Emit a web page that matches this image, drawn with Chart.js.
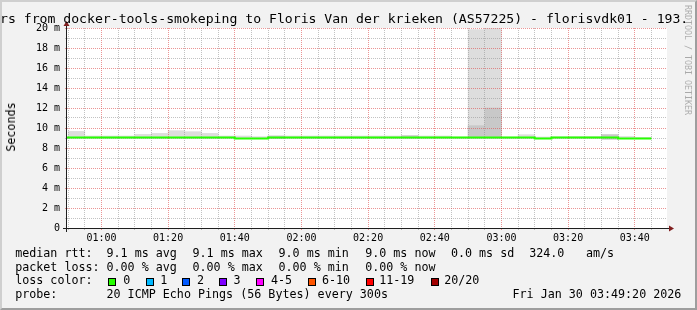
<!DOCTYPE html>
<html><head><meta charset="utf-8">
<script src="https://cdn.jsdelivr.net/npm/chart.js@4/dist/chart.umd.min.js"></script>
<style>
html,body{margin:0;padding:0;background:#f2f2f2;}
#wrap{position:relative;width:697px;height:310px;overflow:hidden;background:#f2f2f2;font-family:'DejaVu Sans Mono',monospace;color:#000;}
#frame{position:absolute;left:0;top:0;width:697px;height:310px;box-sizing:border-box;border-top:2px solid #cfcfcf;border-left:2px solid #cfcfcf;border-right:2px solid #9e9e9e;border-bottom:2px solid #9e9e9e;}
canvas{position:absolute;left:0;top:0;}
.t{position:absolute;white-space:pre;}
#title{left:0;top:11px;font-size:13.15px;line-height:16px;}
.lg{position:absolute;left:0;width:697px;height:14px;font-size:11.7px;line-height:14px;}
.box{position:absolute;top:278px;width:8px;height:8px;box-sizing:border-box;border:1px solid #000;}
#ylab{position:absolute;left:10.5px;top:126.5px;font-size:11.7px;line-height:14px;white-space:pre;transform:translate(-50%,-50%) rotate(-90deg);}
#wm{position:absolute;left:683px;top:5px;font-size:8.3px;line-height:9px;width:9px;writing-mode:vertical-rl;color:rgba(0,0,0,0.3);white-space:pre;}
</style></head>
<body>
<div id="wrap">
  <div id="frame"></div>
  <canvas id="c" width="697" height="310"></canvas>
  <div class="t" id="title">rs from docker-tools-smokeping to Floris Van der krieken (AS57225) - florisvdk01 - 193.</div>
  <div id="ylab">Seconds</div>
  <div id="wm">RRDTOOL / TOBI OETIKER</div>
  <div id="legend"></div>
</div>
<script>
// ---- data ----
const viewStart = '00:49:40';
const viewEnd   = '03:49:40';
const binMinutes = 5; // 300 s steps
const binTimes = ['00:45','00:50','00:55','01:00','01:05','01:10','01:15','01:20','01:25','01:30','01:35','01:40',
                  '01:45','01:50','01:55','02:00','02:05','02:10','02:15','02:20','02:25','02:30','02:35','02:40',
                  '02:45','02:50','02:55','03:00','03:05','03:10','03:15','03:20','03:25','03:30','03:35','03:40'];
// median rtt in ms
const medianRtt = [8.95,9.05,9.05,9.05,9.05,9.05,9.05,9.05,9.05,9.05,9.05,9.05,
                   8.95,8.95,9.05,9.05,9.05,9.05,9.05,9.05,9.05,9.05,9.05,9.05,
                   9.05,9.05,9.05,9.05,9.05,9.05,8.95,9.05,9.05,9.05,9.05,8.95];
// outer smoke (min / max ping) in ms
const smokeLow  = [null,8.95,8.95,8.95,8.95,8.95,8.95,8.95,8.95,8.95,8.95,8.95,
                   8.95,8.95,8.95,8.95,8.95,8.95,8.95,8.95,8.95,8.95,8.95,8.95,
                   8.95,8.95,8.95,8.95,8.95,8.95,8.95,8.95,8.95,8.88,8.95,8.95];
const smokeHigh = [null,9.66,9.2,9.2,9.2,9.36,9.46,9.73,9.63,9.46,9.2,9.2,
                   9.13,9.2,9.2,9.2,9.2,9.2,9.2,9.2,9.2,9.23,9.2,9.2,
                   9.1,19.83,20.3,9.1,9.33,9.1,9.12,9.15,9.15,9.33,9.15,9.05];
// inner (denser) smoke band in ms
const coreLow  = [null,null,null,null,null,null,null,null,null,null,null,null,
                  null,8.95,null,null,null,null,null,null,null,9.0,null,null,
                  null,9.0,9.0,null,null,null,null,null,null,8.88,null,null];
const coreHigh = [null,null,null,null,null,null,null,null,null,null,null,null,
                  null,9.2,null,null,null,null,null,null,null,9.23,null,null,
                  null,10.23,12.0,null,null,null,null,null,null,9.33,null,null];
const xTickLabels = ['01:00','01:20','01:40','02:00','02:20','02:40','03:00','03:20','03:40'];
const yTickLabels = ['0','2 m','4 m','6 m','8 m','10 m','12 m','14 m','16 m','18 m','20 m'];

// legend texts
const legendLines = [
  {top:246.25, items:[[15.2,'median rtt:'],[106.5,'9.1 ms avg'],[192.5,'9.1 ms max'],[278.5,'9.0 ms min'],[365.2,'9.0 ms now'],[450.9,'0.0 ms sd'],[529.2,'324.0'],[585.9,'am/s']]},
  {top:259.65, items:[[15.2,'packet loss:'],[106.5,'0.00 % avg'],[192.5,'0.00 % max'],[278.5,'0.00 % min'],[365.2,'0.00 % now']]},
  {top:272.95, items:[[15.2,'loss color:'],[123.2,'0'],[160.2,'1'],[196.9,'2'],[233.5,'3'],[270.9,'4-5'],[321.9,'6-10'],[379.2,'11-19'],[444.2,'20/20']]},
  {top:286.65, items:[[15.2,'probe:'],[106.5,'20 ICMP Echo Pings (56 Bytes) every 300s'],[512.5,'Fri Jan 30 03:49:20 2026']]}
];
const lossColors = ['#26ff00','#00b8ff','#0059ff','#7e00ff','#ff00ff','#ff5500','#ff0000','#a10000'];
const lossBoxX = [108,146,182,219,256,308,366,431];

// ---- legend DOM ----
const lg = document.getElementById('legend');
legendLines.forEach(l => {
  const d = document.createElement('div'); d.className='lg'; d.style.top = l.top+'px';
  l.items.forEach(([x,s]) => { const sp=document.createElement('span'); sp.className='t'; sp.style.left=x+'px'; sp.textContent=s; d.appendChild(sp); });
  lg.appendChild(d);
});
lossColors.forEach((c,i) => { const b=document.createElement('div'); b.className='box'; b.style.left=lossBoxX[i]+'px'; b.style.background=c; lg.appendChild(b); });

// ---- chart ----
const toMin = s => { const p = s.split(':').map(Number); return p[0]*60 + p[1] + (p[2]||0)/60; };
const fmt = m => String(Math.floor(m/60)).padStart(2,'0') + ':' + String(Math.round(m%60)).padStart(2,'0');

const smokeData = binTimes.map((t,i) => smokeHigh[i]==null ? null : {x: toMin(t)+binMinutes/2, y:[smokeLow[i], smokeHigh[i]]}).filter(Boolean);
const coreData  = binTimes.map((t,i) => coreHigh[i]==null ? null : {x: toMin(t)+binMinutes/2, y:[coreLow[i], coreHigh[i]]}).filter(Boolean);
const medianData = binTimes.map((t,i) => ({x: toMin(t), y: medianRtt[i]}));
medianData.push({x: toMin(binTimes[binTimes.length-1]) + binMinutes, y: medianRtt[medianRtt.length-1]});

const MGRID = 'rgba(222,79,79,0.6)';
const GRID  = 'rgba(143,143,143,0.55)';
const FONT = {family:"'DejaVu Sans Mono', monospace", size:10};
const isMajorX = v => xTickLabels.includes(fmt(v));

const rrdPlugin = {
  id: 'rrd',
  beforeDraw(chart) {
    const {ctx, chartArea:a} = chart;
    ctx.save(); ctx.fillStyle = '#ffffff';
    ctx.fillRect(a.left, a.top, a.right - a.left, a.bottom - a.top);
    ctx.restore();
  },
  beforeDatasetDraw(chart, args) {
    if (args.meta.type === 'line') return false;
  },
  afterDraw(chart) {
    const {ctx, chartArea:a} = chart;
    // median line above the grid
    const meta = chart.getDatasetMeta(2);
    ctx.save(); ctx.beginPath(); ctx.rect(a.left, a.top - 2, a.right - a.left, a.bottom - a.top + 4); ctx.clip();
    meta.controller.draw();
    ctx.restore();
    // axes
    ctx.save();
    ctx.strokeStyle = '#1f1f1f'; ctx.lineWidth = 1;
    ctx.beginPath();
    ctx.moveTo(a.left - 4, a.bottom + 0.5); ctx.lineTo(a.right + 4, a.bottom + 0.5);
    ctx.moveTo(a.left - 0.5, a.bottom + 4); ctx.lineTo(a.left - 0.5, a.top - 4);
    ctx.stroke();
    ctx.fillStyle = '#801f1f';
    ctx.beginPath();
    ctx.moveTo(a.right + 2, a.bottom + 0.5 - 3); ctx.lineTo(a.right + 2, a.bottom + 0.5 + 3); ctx.lineTo(a.right + 7, a.bottom + 0.5); ctx.closePath(); ctx.fill();
    ctx.beginPath();
    ctx.moveTo(a.left - 0.5 - 3, a.top - 2); ctx.lineTo(a.left - 0.5 + 3, a.top - 2); ctx.lineTo(a.left - 0.5, a.top - 7); ctx.closePath(); ctx.fill();
    ctx.restore();
  }
};

new Chart(document.getElementById('c'), {
  type: 'bar',
  data: { datasets: [
    {type:'bar', data: smokeData, backgroundColor:'#dddddd', borderWidth:0, grouped:false, barPercentage:1, categoryPercentage:1, order:3},
    {type:'bar', data: coreData, backgroundColor:'#c8c8c8', borderWidth:0, grouped:false, barPercentage:1, categoryPercentage:1, order:2},
    {type:'line', data: medianData, borderColor:'#26ff00', borderWidth:2, stepped:'after', pointRadius:0, fill:false, tension:0, order:1}
  ]},
  options: {
    responsive:false, animation:false, devicePixelRatio:1, events:[],
    layout:{padding:{left:0, top:28, right:30, bottom:0}, autoPadding:false},
    plugins:{legend:{display:false}, tooltip:{enabled:false}, title:{display:false}},
    scales:{
      x:{
        type:'linear', min: toMin(viewStart), max: toMin(viewEnd), offset:false,
        afterBuildTicks: s => { const t=[]; for (let m=Math.ceil(s.min/binMinutes)*binMinutes; m<=s.max; m+=binMinutes) t.push({value:m}); s.ticks=t; },
        afterFit: s => { s.height = 82; },
        ticks:{autoSkip:false, maxRotation:0, minRotation:0, padding:2, color:'#000', font:FONT,
               callback: v => isMajorX(v) ? fmt(v) : ''},
        grid:{z:1, offset:false, lineWidth:1, tickLength:2, drawTicks:true,
              color: c => (c.tick && isMajorX(c.tick.value)) ? MGRID : GRID,
              tickColor: c => (c.tick && isMajorX(c.tick.value)) ? MGRID : GRID},
        border:{display:false, dash:[1,1]}
      },
      y:{
        type:'linear', min:0, max:20,
        afterFit: s => { s.width = 67; },
        ticks:{stepSize:1, autoSkip:false, padding:5, color:'#000', font:FONT,
               callback: v => v % 2 === 0 ? yTickLabels[v/2] : ''},
        grid:{z:1, lineWidth:1, tickLength:2, drawTicks:true,
              color: c => (c.tick && c.tick.value % 2 === 0) ? MGRID : GRID,
              tickColor: c => (c.tick && c.tick.value % 2 === 0) ? MGRID : GRID},
        border:{display:false, dash:[1,1]}
      }
    }
  },
  plugins:[rrdPlugin]
});
</script>
</body></html>
